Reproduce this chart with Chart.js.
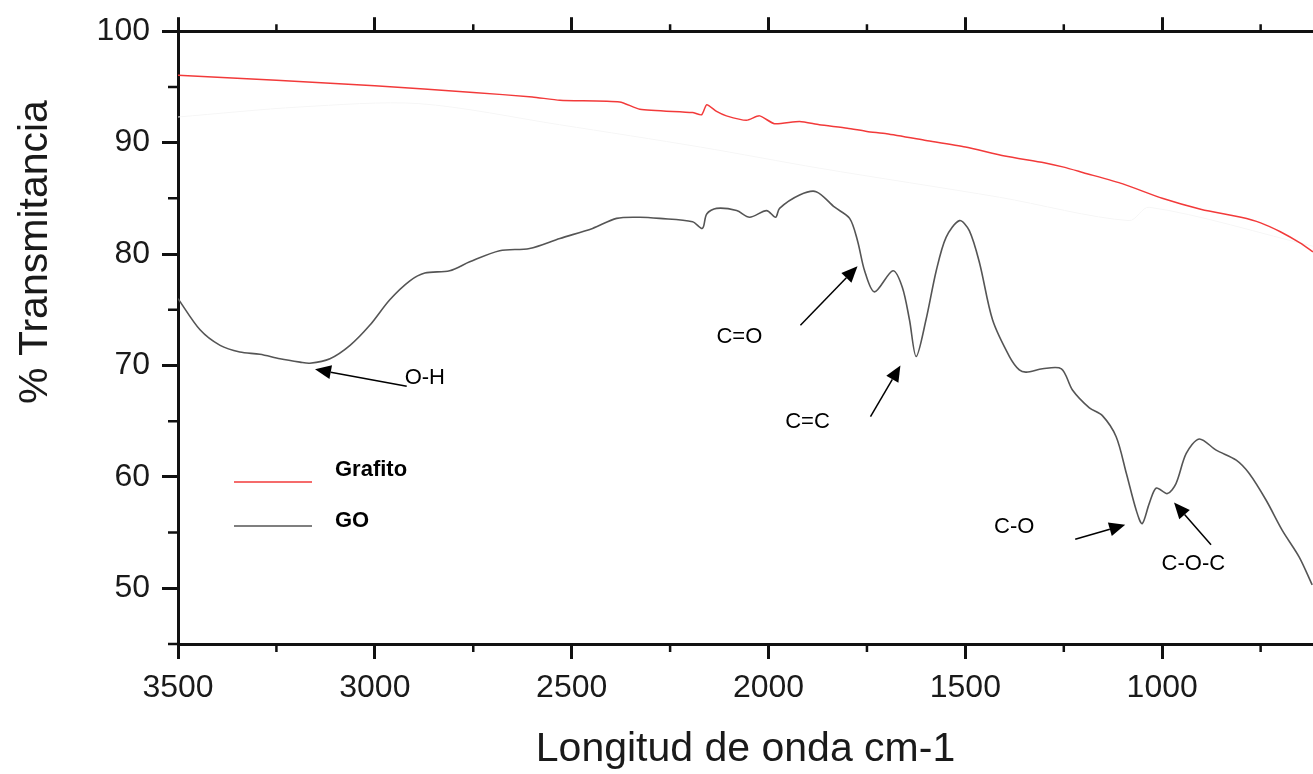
<!DOCTYPE html>
<html>
<head>
<meta charset="utf-8">
<script src="https://cdn.jsdelivr.net/npm/chart.js@4.4.1/dist/chart.umd.min.js"></script>
<style>
  html, body { margin: 0; padding: 0; background: #fff; }
  #wrap { width: 1313px; height: 774px; }
</style>
</head>
<body>
<div id="wrap"><canvas id="ftirChart"></canvas></div>
<script>
// FTIR spectra: wavenumber (cm-1) and % transmittance
const goWave = [3500, 3444, 3393, 3343, 3292, 3241, 3190, 3165, 3114, 3063, 3013, 2962, 2911, 2873, 2810, 2759, 2683, 2607,
  2530, 2447, 2386, 2327, 2277, 2193, 2168, 2157, 2132, 2081, 2048, 2005, 1982, 1972, 1921, 1879, 1832, 1794, 1774, 1756,
  1731, 1684, 1660, 1642, 1625, 1600, 1574, 1549, 1515, 1490, 1464, 1431, 1388, 1363, 1345, 1304, 1256, 1228, 1185, 1152,
  1117, 1091, 1066, 1051, 1033, 1015, 987, 965, 939, 906, 863, 812, 779, 736, 695, 652, 619];
const goT = [76.0, 73.2, 71.8, 71.2, 71.0, 70.6, 70.3, 70.2, 70.6, 71.8, 73.6, 75.9, 77.6, 78.3, 78.5, 79.3, 80.3, 80.5,
  81.4, 82.3, 83.2, 83.3, 83.2, 82.9, 82.3, 83.6, 84.1, 83.9, 83.3, 83.9, 83.3, 84.1, 85.3, 85.6, 84.2, 83.2, 81.2, 78.5,
  76.6, 78.5, 77.0, 74.1, 70.8, 74.1, 78.5, 81.5, 83.0, 82.1, 79.2, 74.1, 70.8, 69.6, 69.4, 69.7, 69.7, 67.8, 66.2, 65.5,
  63.6, 60.3, 57.0, 55.8, 57.6, 59.0, 58.5, 59.4, 62.1, 63.4, 62.4, 61.5, 60.3, 57.9, 55.2, 52.8, 50.3];

const grafitoWave = [3500, 3250, 3000, 2750, 2600, 2530, 2378, 2327, 2193, 2170, 2157, 2132, 2107, 2056, 2023, 1985,
  1921, 1871, 1800, 1750, 1700, 1600, 1500, 1400, 1300, 1250, 1200, 1100, 1000, 900, 800, 750, 700, 650, 617];
const grafitoT = [96.05, 95.6, 95.1, 94.5, 94.1, 93.8, 93.65, 93.0, 92.7, 92.5, 93.4, 92.8, 92.4, 92.0, 92.4, 91.7,
  91.9, 91.6, 91.3, 91.0, 90.8, 90.2, 89.6, 88.8, 88.2, 87.8, 87.3, 86.3, 85.0, 84.0, 83.3, 82.8, 82.0, 81.0, 80.2];

// faint background trace
const baseWave = [3500, 3190, 2888, 2530, 2173, 1870, 1414, 1084, 1033, 617];
const baseT = [92.3, 93.2, 93.5, 91.6, 89.6, 87.7, 85.1, 83.0, 84.2, 80.7];

const seriesNames = ['Grafito', 'GO'];
const seriesColors = ['#f23a3a', '#555555'];

const xMajorTicks = [3500, 3000, 2500, 2000, 1500, 1000];
const xMinorTicks = [3250, 2750, 2250, 1750, 1250, 750];
const yMajorTicks = [50, 60, 70, 80, 90, 100];
const yMinorTicks = [45, 55, 65, 75, 85, 95];

// band assignments: label, label centre, arrow tail, arrow tip (cm-1, %T)
const bandNames = ['O-H', 'C=O', 'C=C', 'C-O', 'C-O-C'];
const bandText = [[2873, 68.85], [2074, 72.6], [1901, 64.9], [1376, 55.5], [921, 52.2]];
const bandTail = [[2919, 68.13], [1919, 73.6], [1741, 65.4], [1221, 54.4], [876, 53.9]];
const bandTip = [[3152, 69.66], [1774, 78.9], [1665, 70.0], [1094, 55.7], [970, 57.7]];

const FONT = "'Liberation Sans', Arial, Helvetica, sans-serif";

function toPoints(xs, ys) {
  return xs.map((x, i) => ({x: x, y: ys[i]}));
}

const minorTicks = {
  id: 'minorTicks',
  afterDraw(chart) {
    const ctx = chart.ctx;
    const a = chart.chartArea;
    const x = chart.scales.x;
    const y = chart.scales.y;
    ctx.save();
    ctx.strokeStyle = '#111';
    ctx.lineWidth = 2.5;
    ctx.beginPath();
    xMinorTicks.forEach(v => {
      const px = x.getPixelForValue(v);
      ctx.moveTo(px, a.bottom);
      ctx.lineTo(px, a.bottom + 8);
      ctx.moveTo(px, a.top);
      ctx.lineTo(px, a.top - 7);
    });
    yMinorTicks.forEach(v => {
      const py = y.getPixelForValue(v);
      ctx.moveTo(a.left, py);
      ctx.lineTo(a.left - 10, py);
    });
    ctx.stroke();
    ctx.restore();
  }
};

const bandLabels = {
  id: 'bandLabels',
  afterDatasetsDraw(chart) {
    const ctx = chart.ctx;
    const x = chart.scales.x;
    const y = chart.scales.y;
    ctx.save();
    ctx.fillStyle = '#000';
    ctx.strokeStyle = '#000';
    ctx.lineWidth = 1.5;
    ctx.font = '22px ' + FONT;
    ctx.textAlign = 'center';
    ctx.textBaseline = 'middle';
    bandNames.forEach((name, i) => {
      ctx.fillText(name, x.getPixelForValue(bandText[i][0]), y.getPixelForValue(bandText[i][1]));
      const x0 = x.getPixelForValue(bandTail[i][0]);
      const y0 = y.getPixelForValue(bandTail[i][1]);
      const x1 = x.getPixelForValue(bandTip[i][0]);
      const y1 = y.getPixelForValue(bandTip[i][1]);
      const ang = Math.atan2(y1 - y0, x1 - x0);
      const len = 16, half = 7;
      const bx = x1 - len * Math.cos(ang);
      const by = y1 - len * Math.sin(ang);
      ctx.beginPath();
      ctx.moveTo(x0, y0);
      ctx.lineTo(bx, by);
      ctx.stroke();
      ctx.beginPath();
      ctx.moveTo(x1, y1);
      ctx.lineTo(bx + half * Math.sin(ang), by - half * Math.cos(ang));
      ctx.lineTo(bx - half * Math.sin(ang), by + half * Math.cos(ang));
      ctx.closePath();
      ctx.fill();
    });
    ctx.restore();
  }
};

// legend sits inside the plot, lower left
const insideLegend = {
  id: 'insideLegend',
  afterDraw(chart) {
    const ctx = chart.ctx;
    const a = chart.chartArea;
    ctx.save();
    ctx.font = 'bold 22px ' + FONT;
    ctx.textBaseline = 'middle';
    ctx.fillStyle = '#000';
    const rows = [[482, 470], [526, 521]];
    chart.data.datasets.forEach((ds, i) => {
      if (!ds.label) return;
      ctx.strokeStyle = ds.borderColor;
      ctx.lineWidth = 1.5;
      ctx.beginPath();
      ctx.moveTo(a.left + 56, rows[i][0]);
      ctx.lineTo(a.left + 134, rows[i][0]);
      ctx.stroke();
      ctx.fillText(ds.label, a.left + 157, rows[i][1]);
    });
    ctx.restore();
  }
};

const yTitle = {
  id: 'yTitle',
  afterDraw(chart) {
    const ctx = chart.ctx;
    ctx.save();
    ctx.translate(36, 252);
    ctx.rotate(-Math.PI / 2);
    ctx.font = '41px ' + FONT;
    ctx.fillStyle = '#1a1a1a';
    ctx.textAlign = 'center';
    ctx.textBaseline = 'middle';
    ctx.fillText('% Transmitancia', 0, 0);
    ctx.restore();
  }
};

const ctx = document.getElementById('ftirChart');

new Chart(ctx, {
  type: 'line',
  data: {
    datasets: [{
      label: seriesNames[0],
      data: toPoints(grafitoWave, grafitoT),
      borderColor: seriesColors[0],
      borderWidth: 1.5,
      pointRadius: 0,
      tension: 0.2
    }, {
      label: seriesNames[1],
      data: toPoints(goWave, goT),
      borderColor: seriesColors[1],
      borderWidth: 1.6,
      pointRadius: 0,
      tension: 0.3
    }, {
      label: '',
      data: toPoints(baseWave, baseT),
      borderColor: '#f6f6f6',
      borderWidth: 1,
      pointRadius: 0,
      tension: 0.3
    }]
  },
  options: {
    responsive: true,
    maintainAspectRatio: false,
    devicePixelRatio: 1,
    animation: false,
    layout: { padding: 0 },
    plugins: {
      legend: { display: false },
      tooltip: { enabled: false }
    },
    scales: {
      x: {
        type: 'linear',
        position: 'bottom',
        reverse: true,
        min: 617,
        max: 3500,
        afterBuildTicks: s => { s.ticks = xMajorTicks.map(v => ({value: v})); },
        afterFit: s => { s.height = 130; },
        ticks: {
          callback: v => String(v),
          font: {family: FONT, size: 32},
          color: '#1a1a1a',
          padding: 10,
          maxRotation: 0,
          autoSkip: false
        },
        grid: { drawOnChartArea: false, tickLength: 15, tickWidth: 3, tickColor: '#111' },
        border: { color: '#111', width: 3 },
        title: {
          display: true,
          text: 'Longitud de onda cm-1',
          font: {family: FONT, size: 41},
          color: '#1a1a1a',
          padding: {top: 0, bottom: 0}
        }
      },
      xTop: {
        type: 'linear',
        position: 'top',
        reverse: true,
        min: 617,
        max: 3500,
        afterBuildTicks: s => { s.ticks = xMajorTicks.map(v => ({value: v})); },
        afterFit: s => { s.height = 31; },
        ticks: { display: false },
        grid: { drawOnChartArea: false, tickLength: 14, tickWidth: 3, tickColor: '#111' },
        border: { color: '#111', width: 3 }
      },
      y: {
        min: 45,
        max: 100,
        afterBuildTicks: s => { s.ticks = yMajorTicks.map(v => ({value: v})); },
        afterFit: s => { s.width = 178; },
        ticks: {
          callback: v => String(v),
          font: {family: FONT, size: 32},
          color: '#1a1a1a',
          padding: 12
        },
        grid: { drawOnChartArea: false, tickLength: 16, tickWidth: 3, tickColor: '#111' },
        border: { color: '#111', width: 3 }
      }
    }
  },
  plugins: [minorTicks, bandLabels, insideLegend, yTitle]
});
</script>
</body>
</html>
